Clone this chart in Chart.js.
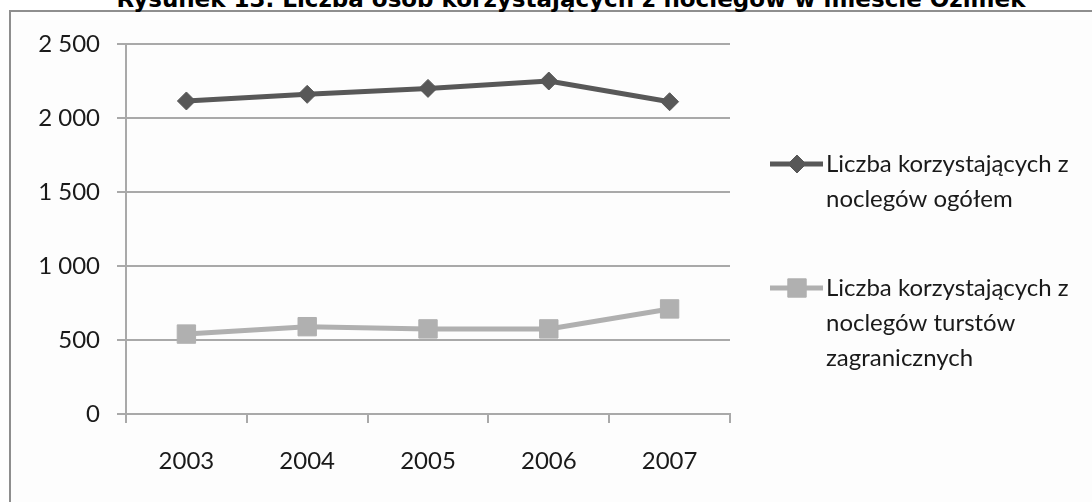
<!DOCTYPE html>
<html>
<head>
<meta charset="utf-8">
<script src="https://cdn.jsdelivr.net/npm/chart.js@4/dist/chart.umd.min.js"></script>
<style>
  html, body { margin: 0; padding: 0; background: #fff; }
  #wrap { position: relative; width: 1092px; height: 502px; overflow: hidden; }
  #frame {
    position: absolute; left: 9px; top: 10px; width: 1200px; height: 600px;
    border: 2px solid #8e8e8e; background: #fdfdfd;
  }
  #title {
    position: absolute; left: 0; width: 1142px; top: -14px; text-align: center;
    font: bold 23px "DejaVu Sans", Verdana, sans-serif; color: #000; white-space: nowrap;
  }
  canvas { position: absolute; left: 0; top: 0; }
</style>
</head>
<body>
<div id="wrap">
  <div id="frame"></div>
  <div id="title">Rysunek 13. Liczba osób korzystających z noclegów w mieście Ozimek</div>
  <canvas id="chart" width="1092" height="502"></canvas>
</div>
<script>
const years = ['2003', '2004', '2005', '2006', '2007']
const totalGuests = [2115, 2160, 2200, 2250, 2110]
const foreignGuests = [540, 590, 575, 575, 710]
const legendLines = [
  ['Liczba korzystających z', 'noclegów ogółem'],
  ['Liczba korzystających z', 'noclegów turstów', 'zagranicznych']
]
const yTicks = [0, 500, 1000, 1500, 2000, 2500]

const labelFont = { family: 'Lato, "Open Sans", sans-serif', size: 24 }
const gridColor = '#a9a9a9'

// legend drawn by hand, text wraps like the original
const sideLegend = {
  id: 'sideLegend',
  afterDraw(chart) {
    const ctx = chart.ctx
    const rows = [164, 288]
    ctx.save()
    chart.data.datasets.forEach((ds, i) => {
      const y = rows[i]
      ctx.strokeStyle = ds.borderColor
      ctx.lineWidth = ds.borderWidth
      ctx.beginPath()
      ctx.moveTo(770, y)
      ctx.lineTo(823, y)
      ctx.stroke()
      ctx.fillStyle = ds.pointBackgroundColor
      ctx.strokeStyle = ds.pointBackgroundColor
      ctx.lineWidth = 1
      Chart.helpers.drawPoint(ctx, {
        pointStyle: ds.pointStyle,
        radius: ds.pointRadius,
        borderWidth: 1,
        rotation: 0
      }, 797, y)
      ctx.fillStyle = '#1a1a1a'
      ctx.font = `${labelFont.size}px ${labelFont.family}`
      ctx.textBaseline = 'middle'
      ctx.textAlign = 'left'
      legendLines[i].forEach((line, j) => {
        ctx.fillText(line, 826, y + j * 35)
      })
    })
    ctx.restore()
  }
}

new Chart(document.getElementById('chart'), {
  type: 'line',
  data: {
    labels: years,
    datasets: [{
      label: legendLines[0].join(' '),
      data: totalGuests,
      borderColor: '#585858',
      backgroundColor: '#585858',
      pointBackgroundColor: '#585858',
      pointBorderColor: '#585858',
      borderWidth: 5,
      pointStyle: 'rectRot',
      pointRadius: 9,
      pointBorderWidth: 1,
      tension: 0
    }, {
      label: legendLines[1].join(' '),
      data: foreignGuests,
      borderColor: '#b0b0b0',
      backgroundColor: '#b0b0b0',
      pointBackgroundColor: '#b0b0b0',
      pointBorderColor: '#b0b0b0',
      borderWidth: 5,
      pointStyle: 'rect',
      pointRadius: 13,
      pointBorderWidth: 1,
      tension: 0
    }]
  },
  options: {
    responsive: false,
    animation: false,
    devicePixelRatio: 1,
    layout: {
      padding: { left: 0, right: 362, top: 44, bottom: 0 }
    },
    plugins: {
      legend: { display: false },
      tooltip: { enabled: false }
    },
    scales: {
      x: {
        offset: true,
        grid: {
          offset: true,
          drawOnChartArea: false,
          drawTicks: true,
          tickLength: 9,
          color: gridColor,
          lineWidth: 2
        },
        border: { color: gridColor, width: 2 },
        ticks: {
          font: labelFont,
          color: '#1a1a1a',
          padding: 24,
          maxRotation: 0
        },
        afterFit(scale) {
          scale.height = 88
        }
      },
      y: {
        min: 0,
        max: 2500,
        afterBuildTicks(scale) {
          scale.ticks = yTicks.map(v => ({ value: v }))
        },
        grid: {
          color: gridColor,
          lineWidth: 2,
          tickLength: 9
        },
        border: { color: gridColor, width: 2 },
        ticks: {
          font: labelFont,
          color: '#1a1a1a',
          padding: 17,
          callback: v => String(v).replace(/\B(?=(\d{3})+(?!\d))/g, ' ')
        },
        afterFit(scale) {
          scale.width = 126
        }
      }
    }
  },
  plugins: [sideLegend]
})
</script>
</body>
</html>
